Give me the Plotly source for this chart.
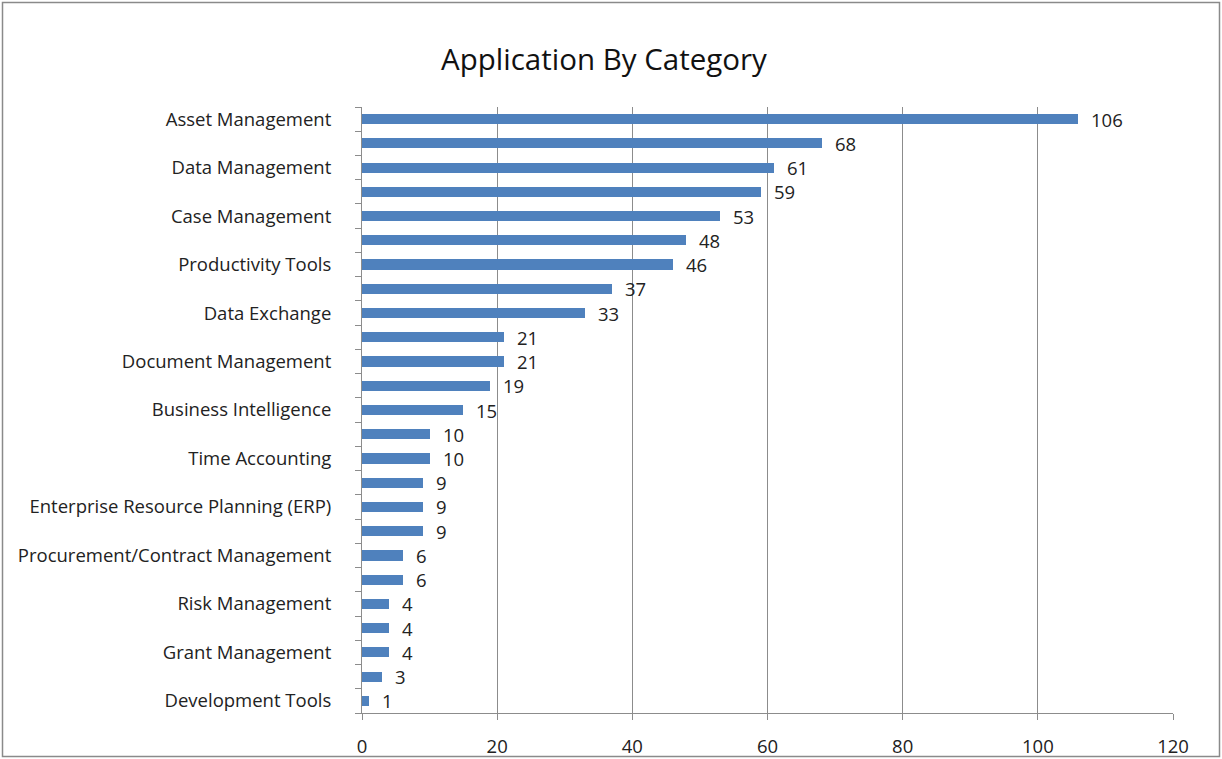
import plotly.graph_objects as go

# Category names (only every other category label is printed on the axis)
categories = [
    "Asset Management", None, "Data Management", None, "Case Management", None,
    "Productivity Tools", None, "Data Exchange", None, "Document Management", None,
    "Business Intelligence", None, "Time Accounting", None,
    "Enterprise Resource Planning (ERP)", None, "Procurement/Contract Management", None,
    "Risk Management", None, "Grant Management", None, "Development Tools",
]
counts = [106, 68, 61, 59, 53, 48, 46, 37, 33, 21, 21, 19, 15, 10, 10, 9, 9, 9, 6, 6, 4, 4, 4, 3, 1]
x_ticks = [0, 20, 40, 60, 80, 100, 120]

positions = list(range(len(counts)))
label_pos = [p for p, c in zip(positions, categories) if c]
label_txt = [c for c in categories if c]

BAR = "#4F81BD"
GRID = "#8C8C8C"
FONT = "Open Sans"
TXT = 18.5

fig = go.Figure()
fig.add_trace(go.Bar(
    x=counts, y=positions, orientation="h",
    marker=dict(color=BAR, line=dict(width=0)),
    width=0.42, hoverinfo="x",
))

annotations = [
    dict(x=v, y=p, xref="x", yref="y", text=str(v), showarrow=False,
         xanchor="left", yanchor="middle", xshift=11,
         font=dict(family=FONT, size=TXT, color="#222222"))
    for p, v in zip(positions, counts)
]

W, H = 1222, 759
ml, mr, mt, mb = 362, 49, 107, 46
pw, ph = W - ml - mr, H - mt - mb

def px_x(px):
    return (px - ml) / pw

def px_y(py):
    return (H - mb - py) / ph

fig.update_layout(
    width=W, height=H,
    margin=dict(l=ml, r=mr, t=mt, b=mb, autoexpand=False),
    paper_bgcolor="white", plot_bgcolor="white",
    showlegend=False, bargap=0,
    title=dict(text="Application By Category", x=604 / W, xanchor="center",
               y=1 - 60 / H, yanchor="middle",
               font=dict(family=FONT, size=29.5, color="#111111")),
    xaxis=dict(
        range=[0, 120], tickvals=x_ticks, ticks="outside", ticklen=6,
        tickcolor=GRID, showline=True, linecolor=GRID, linewidth=1,
        showgrid=True, gridcolor=GRID, gridwidth=1, zeroline=False,
        ticklabelstandoff=11,
        tickfont=dict(family=FONT, size=TXT, color="#222222"),
    ),
    yaxis=dict(
        range=[len(counts) - 0.5, -0.5], tickmode="array",
        tickvals=label_pos, ticktext=label_txt, ticks="",
        showline=True, linecolor=GRID, linewidth=1, showgrid=False,
        zeroline=False, ticklabelstandoff=26,
        minor=dict(tickmode="array",
                   tickvals=[p - 0.5 for p in positions] + [len(counts) - 0.5],
                   ticks="outside", ticklen=6, tickcolor=GRID, showgrid=False),
        tickfont=dict(family=FONT, size=TXT, color="#222222"),
    ),
    annotations=annotations,
    shapes=[dict(type="rect", xref="paper", yref="paper",
                 x0=px_x(2.5), x1=px_x(1219.5), y0=px_y(756.5), y1=px_y(2.5),
                 line=dict(color="#8A8A8A", width=1.5), layer="below")],
)

fig.write_html("out.html")
